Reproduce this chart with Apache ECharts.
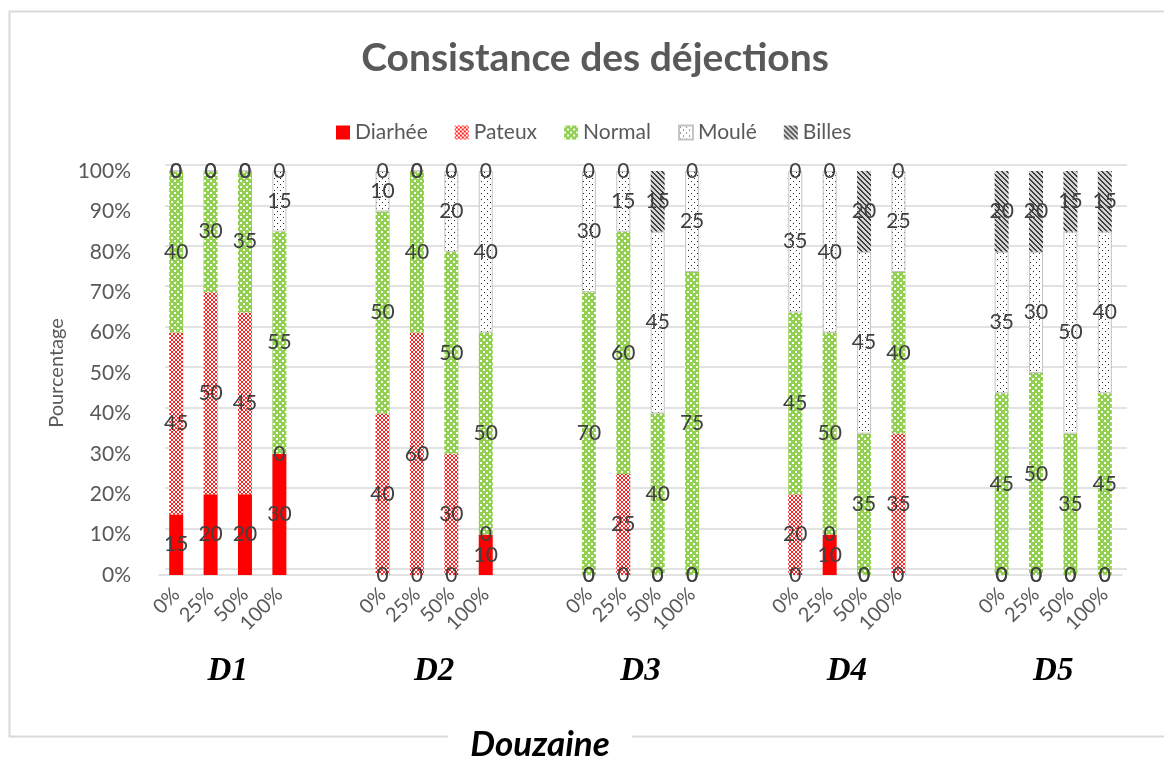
<!DOCTYPE html>
<html>
<head>
<meta charset="utf-8">
<script src="https://cdn.jsdelivr.net/npm/echarts@6/dist/echarts.min.js"></script>
<style>
  html, body { margin: 0; padding: 0; background: #fff; }
  #chart { width: 1164px; height: 759px; }
</style>
</head>
<body>
<div id="chart"></div>
<script>
// Dose levels inside each dozen, and the dozens themselves
const levels = ['0%', '25%', '50%', '100%'];
const groups = ['D1', 'D2', 'D3', 'D4', 'D5'];

// Share (%) of each droppings consistency, listed D1..D5, each by level 0/25/50/100 %
const diarrhee = [15, 20, 20, 30,   0, 0, 0, 10,   0, 0, 0, 0,    0, 10, 0, 0,    0, 0, 0, 0];
const pateux   = [45, 50, 45, 0,    40, 60, 30, 0, 0, 25, 0, 0,   20, 0, 0, 35,   0, 0, 0, 0];
const normal   = [40, 30, 35, 55,   50, 40, 50, 50, 70, 60, 40, 75, 45, 50, 35, 40, 45, 50, 35, 45];
const moule    = [0, 0, 0, 15,      10, 0, 20, 40, 30, 15, 45, 25, 35, 40, 45, 25, 35, 30, 50, 40];
const billes   = [0, 0, 0, 0,       0, 0, 0, 0,    0, 0, 15, 0,   0, 0, 20, 0,    20, 20, 15, 15];

// Y axis ticks
const yTicks = [0, 10, 20, 30, 40, 50, 60, 70, 80, 90, 100];

// Two empty slots separate consecutive dozens on the category axis
const GAP = 2;
const slot = levels.length + GAP;
const categories = [];
groups.forEach((g, gi) => {
  levels.forEach(l => categories.push(l));
  if (gi < groups.length - 1) for (let k = 0; k < GAP; k++) categories.push('');
});
function spread(values) {
  const out = [];
  groups.forEach((g, gi) => {
    for (let li = 0; li < levels.length; li++) out.push(values[gi * levels.length + li]);
    if (gi < groups.length - 1) for (let k = 0; k < GAP; k++) out.push('-');
  });
  return out;
}
const groupCenters = groups.map((g, gi) => gi * slot + levels.length / 2);

// Hatch fills built on small tiles
function tile(size, draw) {
  const c = document.createElement('canvas');
  c.width = size; c.height = size;
  const ctx = c.getContext('2d');
  draw(ctx, size);
  return { image: c, repeat: 'repeat' };
}
const fillPateux = tile(4, (ctx, n) => {
  ctx.fillStyle = '#ffffff'; ctx.fillRect(0, 0, n, n);
  ctx.fillStyle = '#ff2020';
  for (let i = 0; i < n; i++) { ctx.fillRect(i, i, 1, 1); ctx.fillRect(n - 1 - i, i, 1, 1); }
});
const fillNormal = tile(6, (ctx, n) => {
  ctx.fillStyle = '#92d050'; ctx.fillRect(0, 0, n, n);
  ctx.fillStyle = '#ffffff';
  ctx.fillRect(0, 0, 2, 2); ctx.fillRect(3, 3, 2, 2);
});
const fillMoule = tile(6, (ctx, n) => {
  ctx.fillStyle = '#ffffff'; ctx.fillRect(0, 0, n, n);
  ctx.fillStyle = '#262626';
  ctx.fillRect(1, 1, 1, 1); ctx.fillRect(4, 4, 1, 1);
});
const fillBilles = tile(5, (ctx, n) => {
  ctx.fillStyle = '#d4d4d4'; ctx.fillRect(0, 0, n, n);
  ctx.fillStyle = '#3f3f3f';
  for (let y = 0; y < n; y++) { ctx.fillRect(y % n, y, 1, 1); ctx.fillRect((y + 1) % n, y, 1, 1); }
});

const FONT = 'Lato, "Open Sans", sans-serif';
const labelStyle = {
  show: true, position: 'inside', color: '#404040', fontSize: 21, fontFamily: FONT,
  textBorderWidth: 0, formatter: p => p.value
};

function barSeries(name, values, fill, extra) {
  return Object.assign({
    name: name, type: 'bar', stack: 'total', barWidth: 14,
    xAxisIndex: 0, yAxisIndex: 0,
    data: spread(values),
    itemStyle: { color: fill },
    label: labelStyle,
    emphasis: { disabled: true }
  }, extra || {});
}

const chart = echarts.init(document.getElementById('chart'), null, { renderer: 'canvas' });
chart.setOption({
  animation: false,
  backgroundColor: '#ffffff',
  title: {
    text: 'Consistance des déjections', left: 590, top: 34, textAlign: 'center',
    textStyle: { fontFamily: FONT, fontSize: 39, fontWeight: 'bold', color: '#595959' }
  },
  legend: {
    left: 331, top: 117, icon: 'rect', itemWidth: 14, itemHeight: 14, itemGap: 27,
    textStyle: { fontFamily: FONT, fontSize: 21, color: '#595959' },
    data: ['Diarhée', 'Pateux', 'Normal', 'Moulé', 'Billes']
  },
  grid: [
    { left: 159, right: 42, top: 171, bottom: 184 },
    // back wall carrying the gridlines
    { left: 165, right: 37, top: 165, bottom: 190 }
  ],
  xAxis: [
    {
      type: 'category', gridIndex: 0, data: categories,
      axisLine: { show: true, lineStyle: { color: '#d9d9d9', width: 1.5 } },
      axisTick: { show: false },
      axisLabel: { interval: 0, rotate: 45, margin: 16, color: '#595959', fontSize: 20, fontFamily: FONT }
    },
    {
      type: 'value', gridIndex: 0, min: 0, max: categories.length, position: 'bottom',
      axisLine: { show: false }, axisTick: { show: false }, splitLine: { show: false },
      axisLabel: {
        customValues: groupCenters, margin: 80, color: '#000000',
        fontFamily: '"Liberation Serif", "Times New Roman", serif', fontSize: 33,
        fontWeight: 'bold', fontStyle: 'italic',
        formatter: v => groups[groupCenters.indexOf(v)] || ''
      }
    },
    { type: 'value', gridIndex: 1, min: 0, max: 1, show: false }
  ],
  yAxis: [
    {
      type: 'value', gridIndex: 0, min: yTicks[0], max: yTicks[yTicks.length - 1], interval: 10,
      name: 'Pourcentage', nameLocation: 'middle', nameGap: 92, nameRotate: 90,
      nameTextStyle: { fontFamily: FONT, fontSize: 20, color: '#595959' },
      axisLine: { show: false }, axisTick: { show: false }, splitLine: { show: false },
      axisLabel: {
        margin: 28, color: '#595959', fontSize: 21, fontFamily: FONT, formatter: '{value}%',
        padding: [8, 0, 0, 0]
      }
    },
    {
      type: 'value', gridIndex: 1, min: yTicks[0], max: yTicks[yTicks.length - 1], interval: 10,
      axisLine: { show: false }, axisTick: { show: false }, axisLabel: { show: false },
      splitLine: { show: true, lineStyle: { color: '#d9d9d9', width: 1.5 } }
    }
  ],
  series: [
    barSeries('Diarhée', diarrhee, '#ff0000'),
    barSeries('Pateux', pateux, fillPateux),
    barSeries('Normal', normal, fillNormal),
    barSeries('Moulé', moule, fillMoule, { itemStyle: { color: fillMoule, borderColor: '#c4c4c4', borderWidth: 1 } }),
    barSeries('Billes', billes, fillBilles)
  ],
  graphic: [
    {
      type: 'rect', z: -10, silent: true,
      shape: { x: 9.5, y: 11.5, width: 1170, height: 725 },
      style: { fill: 'none', stroke: '#d9d9d9', lineWidth: 2 }
    },
    {
      type: 'text', x: 540, y: 745, z: 10, silent: true,
      style: {
        text: 'Douzaine', align: 'center', verticalAlign: 'middle',
        font: 'italic bold 35px Lato, sans-serif', fill: '#000000',
        backgroundColor: '#ffffff', padding: [0, 22]
      }
    }
  ]
});
</script>
</body>
</html>
